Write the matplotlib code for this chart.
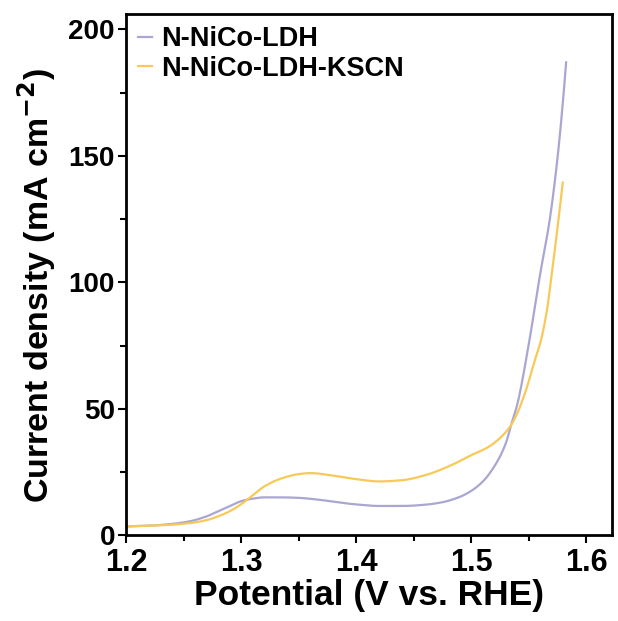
import matplotlib
matplotlib.use('Agg')
import matplotlib.pyplot as plt
import numpy as np

plt.rcParams['font.family'] = ['Liberation Sans', 'DejaVu Sans']
plt.rcParams['font.weight'] = 'bold'
plt.rcParams['mathtext.default'] = 'bf'

# LSV data (potential in V vs. RHE, current in mA cm^-2)
pot_ldh = [1.200, 1.220, 1.240, 1.255, 1.270, 1.280, 1.290, 1.300, 1.310, 1.320,
           1.335, 1.350, 1.365, 1.380, 1.400, 1.420, 1.440, 1.460, 1.475, 1.490,
           1.500, 1.510, 1.520, 1.530, 1.5345, 1.540, 1.550, 1.560, 1.5664, 1.570,
           1.5757, 1.580, 1.5823]
cur_ldh = [3.5, 3.8, 4.5, 5.5, 7.5, 9.5, 11.5, 13.5, 14.5, 15.0,
           15.0, 14.8, 14.2, 13.3, 12.2, 11.6, 11.6, 12.1, 13.1, 15.2,
           17.6, 21.3, 27.3, 36.5, 43.6, 52.0, 76.0, 104.0, 120.0, 131.0,
           153.0, 174.0, 187.0]

pot_kscn = [1.200, 1.220, 1.240, 1.255, 1.270, 1.280, 1.290, 1.300, 1.310, 1.320,
            1.335, 1.350, 1.360, 1.380, 1.400, 1.420, 1.440, 1.460, 1.480, 1.500,
            1.515, 1.525, 1.5345, 1.540, 1.5475, 1.555, 1.5606, 1.5655, 1.570,
            1.5736, 1.577, 1.5794]
cur_kscn = [3.5, 3.8, 4.2, 4.8, 6.0, 7.5, 9.5, 12.3, 15.8, 19.3,
            22.5, 24.2, 24.6, 23.6, 22.2, 21.3, 21.8, 23.8, 27.2, 31.7,
            35.0, 38.5, 43.6, 48.4, 57.5, 69.0, 77.4, 88.6, 104.0,
            117.0, 130.0, 139.5]

labels = ['N-NiCo-LDH', 'N-NiCo-LDH-KSCN']
colors = ['#aaa6d2', '#f8c957']


def pchip(x, y, n=600):
    # monotone cubic hermite through the read points
    x = np.asarray(x, float)
    y = np.asarray(y, float)
    h = np.diff(x)
    d = np.diff(y) / h
    m = np.zeros_like(y)
    for i in range(1, len(x) - 1):
        if d[i - 1] * d[i] > 0:
            w1 = 2 * h[i] + h[i - 1]
            w2 = h[i] + 2 * h[i - 1]
            m[i] = (w1 + w2) / (w1 / d[i - 1] + w2 / d[i])
    m[0] = d[0]
    m[-1] = d[-1]
    xs = np.linspace(x[0], x[-1], n)
    idx = np.clip(np.searchsorted(x, xs) - 1, 0, len(x) - 2)
    t = (xs - x[idx]) / h[idx]
    h00 = 2 * t**3 - 3 * t**2 + 1
    h10 = t**3 - 2 * t**2 + t
    h01 = -2 * t**3 + 3 * t**2
    h11 = t**3 - t**2
    ys = (h00 * y[idx] + h10 * h[idx] * m[idx] +
          h01 * y[idx + 1] + h11 * h[idx] * m[idx + 1])
    return xs, ys


fig = plt.figure(figsize=(6.18, 6.21), dpi=100)
ax = fig.add_axes([0.204, 0.138, 0.786, 0.839])

for x, y, lab, c in zip([pot_ldh, pot_kscn], [cur_ldh, cur_kscn], labels, colors):
    xs, ys = pchip(x, y)
    ax.plot(xs, ys, color=c, lw=1.6, label=lab)

ax.set_xlim(1.2, 1.622)
ax.set_ylim(0, 206)
ax.set_xticks([1.2, 1.3, 1.4, 1.5, 1.6])
ax.set_xticks([1.25, 1.35, 1.45, 1.55], minor=True)
ax.set_yticks([0, 50, 100, 150, 200])
ax.set_yticks([25, 75, 125, 175], minor=True)
ax.tick_params(which='both', direction='out', width=1.5)
ax.tick_params(which='major', length=6)
ax.tick_params(which='minor', length=4)
ax.tick_params(axis='x', labelsize=22, pad=3)
ax.tick_params(axis='y', labelsize=20, pad=2)
for s in ax.spines.values():
    s.set_linewidth(2)

ax.set_xlabel('Potential (V vs. RHE)', fontsize=25.5, fontweight='bold', labelpad=1)
ax.set_ylabel('Current density (mA cm$^{-2}$)', fontsize=24.5, fontweight='bold')
ax.yaxis.set_label_coords(-0.14, 0.48)

ax.legend(loc='upper left', frameon=False, fontsize=19.5, handlelength=0.5,
          handletextpad=0.35, borderaxespad=0.0, borderpad=0.45, labelspacing=0.12)

fig.savefig('out.png', dpi=100)
